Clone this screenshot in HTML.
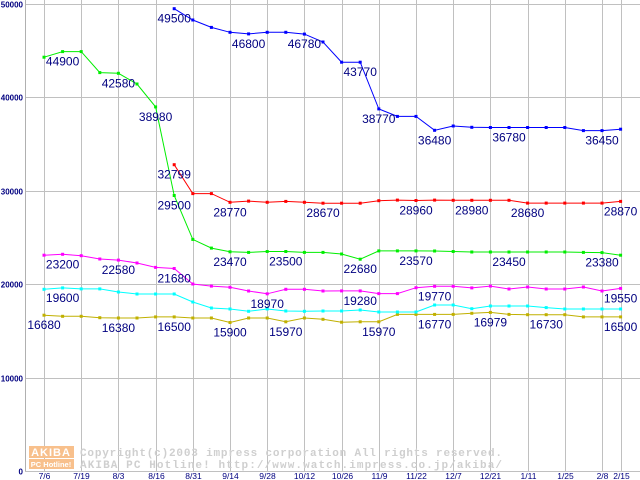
<!DOCTYPE html>
<html><head><meta charset="utf-8"><style>
html,body{margin:0;padding:0;background:#fff;}
svg{display:block;}
</style></head><body>
<svg id="chart" width="640" height="480" viewBox="0 0 640 480" xmlns="http://www.w3.org/2000/svg">
<g id="grid"></g>
<g id="axes"></g>
<g id="watermark">
  <rect x="29" y="446" width="45" height="12" fill="#f8c08c"/>
  <rect x="29" y="459" width="45" height="10" fill="#f8c08c"/>
  <text x="51" y="456" font-family="Liberation Sans, sans-serif" font-size="11" font-weight="bold" fill="#fff" text-anchor="middle" letter-spacing="1">AKIBA</text>
  <text x="51" y="467" font-family="Liberation Sans, sans-serif" font-size="7.5" font-weight="bold" fill="#fff" text-anchor="middle">PC Hotline!</text>
  <text x="80" y="456" font-family="Liberation Mono, monospace" font-size="11" font-weight="bold" fill="#cfcfcf" textLength="422">Copyright(c)2003 impress corporation All rights reserved.</text>
  <text x="80" y="468" font-family="Liberation Mono, monospace" font-size="11" font-weight="bold" fill="#cfcfcf" textLength="422">AKIBA PC Hotline!  http://www.watch.impress.co.jp/akiba/</text>
</g>
<g id="series"></g>
<g id="labels"></g>
</svg>
<script>
const xTickLabels = ["7/6","7/19","8/3","8/16","8/31","9/14","9/28","10/12","10/26","11/9","11/22","12/7","12/21","1/11","1/25","2/8","2/15"];
const xTickIndex = [0,2,4,6,8,10,12,14,16,18,20,22,24,26,28,30,31];
const yTicks = [0,10000,20000,30000,40000,50000];
const seriesGreen = [44300,44900,44900,42650,42580,41430,38980,29500,24800,23870,23470,23400,23500,23500,23400,23400,23230,22680,23570,23570,23570,23550,23500,23450,23450,23450,23450,23450,23450,23400,23380,23100];
const seriesBlue = [null,null,null,null,null,null,null,49500,48290,47500,46970,46800,46970,46970,46780,45930,43770,43770,38770,37970,37970,36480,36940,36800,36780,36780,36780,36780,36780,36450,36450,36600];
const seriesRed = [null,null,null,null,null,null,null,32799,29700,29700,28770,28900,28770,28870,28770,28670,28670,28670,28940,29000,28960,29000,28980,28980,28980,28980,28680,28680,28680,28680,28680,28870];
const seriesMagenta = [23100,23200,23050,22700,22580,22270,21800,21680,20020,19800,19670,19270,18970,19450,19450,19270,19280,19280,18990,18990,19630,19770,19770,19600,19800,19490,19700,19490,19490,19700,19270,19550];
const seriesCyan = [19450,19600,19500,19500,19160,18950,18950,18950,18090,17450,17340,17100,17340,17130,17100,17130,17130,17240,17020,17020,17020,17770,17770,17380,17670,17670,17670,17500,17340,17340,17340,17340];
const seriesOlive = [16680,16560,16560,16410,16380,16380,16500,16500,16380,16380,15900,16380,16380,15970,16380,16240,15930,15970,15970,16770,16770,16770,16770,16880,16979,16770,16730,16730,16730,16500,16500,16500];
const labelGreenIdx = [1,4,6,7,10,13,17,20,25,30];
const labelBlueIdx = [7,11,14,17,18,21,25,30];
const labelRedIdx = [7,10,15,20,23,26,31];
const labelMagentaIdx = [1,4,7,12,17,21,31];
const labelCyanIdx = [1];
const labelOliveIdx = [0,4,7,10,13,18,21,24,27,31];

const NS = "http://www.w3.org/2000/svg";
const X0 = 44, DX = 18.6, Y0 = 471, YS = 467/50000;
function xs(i){ return X0 + i*DX; }
function ys(v){ return Y0 - v*YS; }
function mk(tag, attrs, parent){
  const el = document.createElementNS(NS, tag);
  for (const k in attrs) el.setAttribute(k, attrs[k]);
  parent.appendChild(el);
  return el;
}
const grid = document.getElementById('grid');
const axes = document.getElementById('axes');
const sg = document.getElementById('series');
const lg = document.getElementById('labels');

yTicks.forEach(function(v){
  const y = Math.round(ys(v)) + 0.5;
  if (v > 0) {
    const ln = mk('line', {x1:25, x2:640, y1:y, y2:y, stroke:'#c0c0c0', 'stroke-width':1}, grid);
    
    
  }
  const t = mk('text', {x:23, y:y+3, 'text-anchor':'end', 'font-family':'Liberation Sans, sans-serif', 'font-size':8, 'font-weight':'bold', fill:'#000080'}, axes);
  t.textContent = String(v);
  
  
});
xTickIndex.forEach(function(idx, k){
  const x = Math.round(xs(idx)) + 0.5;
  const ln = mk('line', {x1:x, x2:x, y1:0, y2:471, stroke:'#c0c0c0', 'stroke-width':1}, grid);
  
  
  const t = mk('text', {x:x, y:479, 'text-anchor':'middle', 'font-family':'Liberation Sans, sans-serif', 'font-size':8.5, fill:'#000080'}, axes);
  t.textContent = xTickLabels[k];
  
  
});
const yAxis = mk('line', {x1:25.5, x2:25.5, y1:0, y2:471, stroke:'#b0b0b0', 'stroke-width':1}, axes);


const xAxis = mk('line', {x1:25, x2:640, y1:471.5, y2:471.5, stroke:'#c0c0c0', 'stroke-width':1}, axes);



function drawSeries(vals, color, name, labelIdx){
  const pts = [];
  vals.forEach(function(v, i){ if (v !== null) pts.push([xs(i), ys(v)]); });
  const pl = mk('polyline', {points: pts.map(function(p){return p[0].toFixed(1)+','+p[1].toFixed(1);}).join(' '), fill:'none', stroke:color, 'stroke-width':1}, sg);
  
  
  pts.forEach(function(p){
    const r = mk('rect', {x:(p[0]-1.5).toFixed(1), y:(p[1]-1.5).toFixed(1), width:3, height:3, fill:color}, sg);
    
    
  });
  labelIdx.forEach(function(i){
    const t = mk('text', {x:xs(i).toFixed(1), y:(ys(vals[i])+14).toFixed(1), 'text-anchor':'middle', 'font-family':'Liberation Sans, sans-serif', 'font-size':12, fill:'#000080'}, lg);
    t.textContent = String(vals[i]);
    
    
  });
}
drawSeries(seriesOlive, '#c0b000', 'olive-series', labelOliveIdx);
drawSeries(seriesCyan, '#00ffff', 'cyan-series', labelCyanIdx);
drawSeries(seriesMagenta, '#ff00ff', 'magenta-series', labelMagentaIdx);
drawSeries(seriesRed, '#ff0000', 'red-series', labelRedIdx);
drawSeries(seriesGreen, '#00ee00', 'green-series', labelGreenIdx);
drawSeries(seriesBlue, '#0000ff', 'blue-series', labelBlueIdx);
</script>
</body></html>
